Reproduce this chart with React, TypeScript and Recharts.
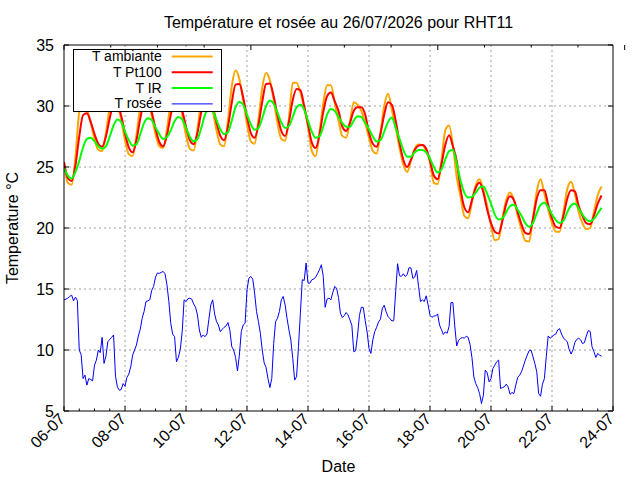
import { LineChart, Line, XAxis, YAxis, CartesianGrid } from 'recharts'

// temperatures sampled every 3 h from 06-07 00:00, dew point every 1.5 h
const STEP_H = 3
const DEW_STEP_H = 1.5

const ambiante = [
  25.4, 23.7, 23.55, 25.8, 29.5, 30.2, 29.75, 28.65,
  27.3, 26.4, 26.3, 27.8, 29.9, 30.8, 30.25, 28.85,
  27.2, 26.05, 25.9, 27.6, 29.95, 31.0, 30.5, 29.2,
  27.7, 26.7, 26.55, 28.1, 30.25, 31.2, 30.65, 29.3,
  27.6, 26.5, 26.35, 28.1, 30.5, 31.6, 31.05, 29.65,
  28.0, 26.85, 26.7, 28.8, 31.6, 32.9, 32.2, 30.5,
  28.5, 27.1, 26.9, 28.9, 31.5, 32.7, 32.1, 30.5,
  28.6, 27.3, 27.15, 29.0, 31.9, 31.9, 31.1, 29.8,
  28.3, 26.3, 25.9, 27.8, 30.2, 31.7, 31.7, 30.3,
  28.8, 27.55, 27.4, 28.7, 30.3, 30.1, 29.6, 28.6,
  27.4, 26.3, 26.1, 27.8, 30.0, 31.0, 29.7, 28.2,
  26.6, 25.2, 24.6, 25.5, 26.5, 26.85, 26.8, 26.3,
  25.4, 23.7, 23.6, 25.5, 28.0, 28.4, 26.8, 24.2,
  22.6, 21.0, 20.8, 22.1, 23.5, 24.0, 23.1, 21.8,
  20.2, 19.0, 19.1, 20.8, 22.3, 22.9, 22.3, 21.0,
  19.9, 18.95, 18.9, 20.8, 23.0, 24.0, 22.8, 21.5,
  20.4, 19.7, 19.7, 21.3, 23.2, 23.8, 22.8, 21.3,
  20.4, 19.9, 20.0, 21.3, 22.7, 23.4,
]

const pt100 = [
  25.4, 24.1, 23.85, 25.15, 27.5, 29.25, 29.4, 28.7,
  27.7, 26.9, 26.65, 27.5, 29.0, 30.15, 30.15, 29.2,
  27.75, 26.6, 26.2, 27.2, 28.95, 30.3, 30.4, 29.5,
  28.15, 27.05, 26.7, 27.6, 29.25, 30.5, 30.6, 29.65,
  28.3, 27.2, 26.87, 27.8, 29.5, 30.8, 30.9, 30.0,
  28.65, 27.55, 27.2, 28.3, 30.25, 31.75, 31.8, 30.7,
  29.1, 27.8, 27.4, 28.45, 30.35, 31.8, 31.85, 30.8,
  29.25, 27.95, 27.55, 28.7, 30.5, 31.4, 31.3, 30.0,
  28.5, 27.0, 26.55, 27.6, 29.5, 30.8, 31.1, 30.4,
  29.6, 28.3, 27.96, 28.6, 29.6, 29.9, 29.9, 29.3,
  27.8, 26.9, 26.65, 27.7, 29.3, 30.3, 30.1, 28.8,
  27.0, 25.6, 25.0, 25.6, 26.4, 26.75, 26.8, 26.5,
  25.5, 24.3, 24.0, 25.2, 26.8, 27.6, 26.7, 25.5,
  23.2, 21.7, 21.3, 22.3, 23.3, 23.7, 22.9, 21.5,
  20.4, 19.7, 19.55, 20.6, 22.0, 22.6, 22.3, 21.3,
  20.3, 19.6, 19.5, 20.7, 22.4, 23.1, 23.1, 21.9,
  20.8, 20.1, 20.0, 21.0, 22.4, 23.1, 23.0, 21.8,
  21.0, 20.4, 20.3, 21.0, 22.0, 22.67,
]

const ir = [
  24.9, 24.3, 24.05, 24.6, 25.5, 26.6, 27.3, 27.4,
  27.1, 26.7, 26.5, 26.7, 27.5, 28.4, 28.9, 28.7,
  27.9, 27.2, 26.75, 26.85, 27.7, 28.6, 29.0, 28.85,
  28.25, 27.7, 27.3, 27.45, 28.0, 28.75, 29.1, 28.9,
  28.2, 27.5, 27.1, 27.3, 28.2, 29.3, 29.8, 29.6,
  28.85, 28.1, 27.7, 27.85, 28.8, 29.9, 30.35, 30.1,
  29.3, 28.5, 28.05, 28.2, 29.0, 30.0, 30.45, 30.2,
  29.45, 28.65, 28.2, 28.35, 29.1, 29.9, 30.1, 29.7,
  28.8, 27.9, 27.4, 27.5, 28.3, 29.3, 29.75, 29.6,
  29.1, 28.6, 28.3, 28.3, 28.8, 29.15, 29.1, 28.6,
  28.1, 27.5, 27.1, 27.2, 27.9, 28.7, 29.05, 28.2,
  27.3, 26.4, 25.85, 25.85, 26.2, 26.4, 26.4, 26.2,
  25.7, 25.0, 24.55, 24.8, 25.6, 26.3, 26.4, 25.3,
  23.9, 22.9, 22.5, 22.55, 22.9, 23.3, 23.4, 22.8,
  22.0, 21.1, 20.7, 20.8, 21.3, 21.8, 21.9, 21.5,
  21.0, 20.4, 20.1, 20.4, 21.2, 21.9, 22.07, 21.7,
  21.1, 20.65, 20.4, 20.6, 21.3, 21.85, 22.0, 21.6,
  21.1, 20.7, 20.55, 20.75, 21.2, 21.66,
]

const rosee = [
  14.11, 14.17, 14.25, 14.39, 14.5, 14.03, 14.33, 14.06, 10.0, 9.61, 7.66, 7.94,
  7.12, 7.66, 7.58, 7.47, 8.76, 9.17, 10.0, 9.78, 11.04, 8.9, 9.5, 10.68,
  10.87, 11.04, 11.23, 7.86, 6.98, 6.7, 6.76, 7.25, 7.03, 7.75, 8.02, 8.62,
  9.58, 10.0, 10.41, 11.15, 11.7, 12.6, 13.15, 13.97, 14.03, 14.11, 14.88, 15.21,
  15.98, 16.31, 16.28, 16.36, 16.44, 16.25, 15.35, 13.97, 12.19, 11.31, 11.09, 9.04,
  9.39, 10.05, 11.5, 14.11, 13.97, 14.2, 14.25, 14.17, 13.78, 13.51, 12.88, 11.64,
  11.04, 11.23, 11.09, 11.31, 12.52, 13.7, 14.11, 12.96, 12.33, 12.05, 11.5, 11.7,
  11.86, 11.97, 12.25, 11.64, 10.27, 10.0, 9.39, 8.29, 9.58, 11.5, 12.05, 12.19,
  14.93, 15.89, 16.03, 15.81, 14.66, 13.15, 12.33, 11.37, 10.0, 8.95, 8.57, 7.66,
  6.92, 7.66, 10.54, 12.33, 12.6, 13.15, 14.11, 14.39, 13.7, 12.6, 11.64, 10.82,
  9.31, 7.53, 7.81, 10.27, 13.02, 15.76, 15.7, 17.13, 15.48, 15.48, 15.76, 15.81,
  15.98, 16.25, 16.58, 16.99, 16.03, 13.5, 14.17, 14.25, 14.11, 14.71, 15.21, 15.07,
  14.3, 13.02, 12.66, 12.82, 13.07, 12.88, 12.47, 12.03, 9.86, 9.94, 11.23, 12.85,
  13.51, 13.49, 12.41, 11.48, 10.13, 9.72, 10.82, 11.5, 11.86, 12.3, 12.52, 13.42,
  13.67, 13.12, 12.74, 12.57, 12.38, 12.41, 14.8, 17.07, 16.09, 16.03, 16.25, 16.03,
  16.17, 16.75, 16.72, 15.87, 15.98, 16.52, 15.21, 13.97, 14.11, 13.97, 14.44, 13.7,
  12.85, 12.68, 12.79, 12.79, 12.96, 12.05, 11.67, 11.28, 11.48, 11.37, 11.92, 13.89,
  13.89, 11.97, 10.33, 10.79, 10.96, 11.01, 10.98, 11.12, 11.04, 10.46, 9.39, 7.8,
  7.25, 6.92, 6.43, 5.61, 6.29, 8.35, 8.13, 7.39, 7.66, 8.49, 8.76, 9.04,
  9.17, 6.84, 6.92, 6.98, 7.2, 6.98, 6.37, 6.51, 6.43, 7.12, 7.75, 7.94,
  8.21, 8.68, 9.17, 9.58, 9.94, 10.0, 9.45, 8.9, 8.21, 6.43, 6.21, 7.2,
  7.66, 9.45, 11.15, 10.96, 11.09, 11.23, 11.31, 11.64, 11.75, 11.31, 10.98, 10.82,
  10.68, 10.05, 9.67, 10.0, 10.63, 10.87, 10.96, 10.84, 10.52, 10.6, 11.15, 11.59,
  11.53, 10.27, 9.86, 9.39, 9.72, 9.56, 9.5,
]

const dateLabels = ['06-07', '08-07', '10-07', '12-07', '14-07', '16-07', '18-07', '20-07', '22-07', '24-07']
const yTicks = [5, 10, 15, 20, 25, 30, 35]

const series = [
  { key: 'ambiante', name: 'T ambiante', color: '#ffa500', width: 2 },
  { key: 'pt100', name: 'T Pt100', color: '#ff0000', width: 2 },
  { key: 'ir', name: 'T IR', color: '#00ff00', width: 2 },
  { key: 'rosee', name: 'T rosée', color: '#0000ff', width: 1 },
]

const tempData = ambiante.map((v, i) => ({
  h: i * STEP_H,
  ambiante: v,
  pt100: pt100[i],
  ir: ir[i],
}))
const dewData = rosee.map((v, i) => ({ h: i * DEW_STEP_H, rosee: v }))

const majorTicks = dateLabels.map((_, i) => i * 48)
const minorTicks = Array.from({ length: 37 }, (_, i) => i * 12)
const xMax = majorTicks[majorTicks.length - 1]

const FONT = '"Liberation Sans", Arial, sans-serif'

function BottomTick({ x, y, payload }: any) {
  const major = payload.value % 48 === 0
  return (
    <g>
      <line x1={x} x2={x} y1={y} y2={y - (major ? 5 : 2.5)} stroke="#000" />
      {major && (
        <text
          transform={`translate(${x + 2},${y + 9}) rotate(-45)`}
          textAnchor="end"
          fontSize={16}
          fontFamily={FONT}
          fill="#000"
        >
          {dateLabels[payload.value / 48]}
        </text>
      )}
    </g>
  )
}

function TopTick({ x, y, payload }: any) {
  const major = payload.value % 48 === 0
  return <line x1={x} x2={x} y1={y} y2={y + (major ? 5 : 2.5)} stroke="#000" />
}

function LeftTick({ x, y, payload }: any) {
  return (
    <g>
      <line x1={x} x2={x + 5} y1={y} y2={y} stroke="#000" />
      <text x={x - 10} y={y} dy="0.35em" textAnchor="end" fontSize={16} fontFamily={FONT} fill="#000">
        {payload.value}
      </text>
    </g>
  )
}

function RightTick({ x, y }: any) {
  return <line x1={x} x2={x - 5} y1={y} y2={y} stroke="#000" />
}

export default function App() {
  return (
    <div style={{ position: 'relative', width: 640, height: 480, background: '#fff' }}>
      <style>{'body{margin:0}'}</style>
      <LineChart width={640} height={480} data={tempData} margin={{ top: 0, right: 0, bottom: 0, left: 0 }}>
        <CartesianGrid
          verticalValues={majorTicks.slice(1, -1)}
          horizontalValues={yTicks.slice(1, -1)}
          stroke="#a0a0a0"
          strokeDasharray="2 3"
        />
        <XAxis
          dataKey="h"
          type="number"
          domain={[0, xMax]}
          ticks={minorTicks}
          interval={0}
          height={69}
          tickSize={0}
          tickMargin={0}
          tickLine={false}
          tick={<BottomTick />}
          axisLine={{ stroke: '#000' }}
          allowDataOverflow
        />
        <XAxis
          xAxisId="top"
          orientation="top"
          type="number"
          domain={[0, xMax]}
          ticks={minorTicks}
          interval={0}
          height={45}
          tickSize={0}
          tickMargin={0}
          tickLine={false}
          tick={<TopTick />}
          axisLine={{ stroke: '#000' }}
          allowDataOverflow
        />
        <YAxis
          type="number"
          domain={[5, 35]}
          ticks={yTicks}
          interval={0}
          width={64}
          tickSize={0}
          tickMargin={0}
          tickLine={false}
          tick={<LeftTick />}
          axisLine={{ stroke: '#000' }}
          allowDataOverflow
        />
        <YAxis
          yAxisId="right"
          orientation="right"
          type="number"
          domain={[5, 35]}
          ticks={yTicks}
          interval={0}
          width={27}
          tickSize={0}
          tickMargin={0}
          tickLine={false}
          tick={<RightTick />}
          axisLine={{ stroke: '#000' }}
          allowDataOverflow
        />
        {series.slice(0, 3).map((s) => (
          <Line
            key={s.key}
            dataKey={s.key}
            name={s.name}
            type="monotone"
            stroke={s.color}
            strokeWidth={s.width}
            dot={false}
            isAnimationActive={false}
          />
        ))}
        <Line
          data={dewData}
          dataKey="rosee"
          name={series[3].name}
          type="linear"
          stroke={series[3].color}
          strokeWidth={series[3].width}
          dot={false}
          isAnimationActive={false}
        />
      </LineChart>

      <svg
        width={640}
        height={480}
        style={{ position: 'absolute', left: 0, top: 0, pointerEvents: 'none' }}
        fontFamily={FONT}
        fontSize={16}
      >
        <text x={338.5} y={27.5} textAnchor="middle" fill="#000">
          Température et rosée au 26/07/2026 pour RHT11
        </text>
        <text transform="translate(18.2,228) rotate(-90)" textAnchor="middle" fill="#000">
          Temperature °C
        </text>
        <text x={338.5} y={471.5} textAnchor="middle" fill="#000">
          Date
        </text>
        <g transform="translate(73,49)">
          <rect x={0.5} y={0.5} width={148} height={62} fill="#fff" stroke="#000" />
          {series.map((s, i) => (
            <g key={s.key}>
              <text x={88.7} y={12 + 15.8 * i} textAnchor="end" fontSize={14} fill="#000">
                {s.name}
              </text>
              <line x1={98.7} x2={139.7} y1={7.5 + 15.8 * i} y2={7.5 + 15.8 * i} stroke={s.color} strokeWidth={s.width} />
            </g>
          ))}
        </g>
      </svg>
    </div>
  )
}
